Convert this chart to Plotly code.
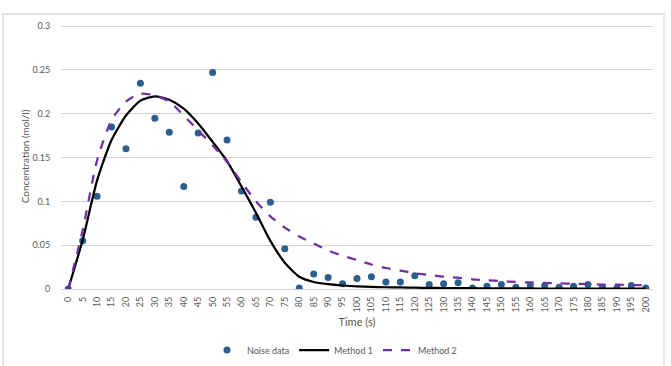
import plotly.graph_objects as go

times = list(range(0, 205, 5))
tick_labels = [str(t) for t in times]

noise_data = [0.0, 0.055, 0.106, 0.185, 0.160, 0.235, 0.195, 0.179, 0.117, 0.178,
              0.247, 0.170, 0.112, 0.082, 0.099, 0.046, 0.001, 0.017, 0.013, 0.006,
              0.012, 0.014, 0.008, 0.008, 0.015, 0.005, 0.006, 0.007, 0.001, 0.003,
              0.005, 0.002, 0.004, 0.004, 0.002, 0.003, 0.005, 0.002, 0.001, 0.004, 0.001]

method1 = [0.0, 0.056, 0.124, 0.170, 0.198, 0.215, 0.220, 0.216, 0.206, 0.189,
           0.168, 0.146, 0.117, 0.087, 0.055, 0.030, 0.014, 0.008, 0.0055, 0.004,
           0.003, 0.0025, 0.002, 0.0018, 0.0015, 0.0013, 0.0011, 0.001, 0.0009, 0.0008,
           0.0007, 0.0006, 0.0006, 0.0005, 0.0005, 0.0004, 0.0004, 0.0004, 0.0003, 0.0003, 0.0003]

method2 = [0.0, 0.067, 0.147, 0.193, 0.214, 0.223, 0.221, 0.214, 0.198, 0.181,
           0.164, 0.145, 0.122, 0.100, 0.083, 0.070, 0.060, 0.052, 0.044, 0.038,
           0.033, 0.028, 0.024, 0.021, 0.018, 0.016, 0.014, 0.013, 0.011, 0.010,
           0.009, 0.008, 0.0075, 0.007, 0.0065, 0.006, 0.0055, 0.005, 0.005, 0.0045, 0.0045]

FONT = "Lato"
GRAY = "#595959"
GRID = "rgb(210,210,210)"

fig = go.Figure()
fig.add_trace(go.Scatter(x=times, y=noise_data, mode="markers", name="Noise data",
                         marker=dict(color="#2a5f8f", size=7)))
fig.add_trace(go.Scatter(x=times, y=method1, mode="lines", name="Method 1",
                         line=dict(color="#000000", width=2.25, shape="spline", smoothing=0.6)))
fig.add_trace(go.Scatter(x=times, y=method2, mode="lines", name="Method 2",
                         line=dict(color="#7030a0", width=2.25, dash="dash", shape="spline", smoothing=0.6)))

fig.update_layout(
    template="none",
    width=671, height=366,
    margin=dict(l=61, r=18, t=24, b=77, autoexpand=False),
    paper_bgcolor="white", plot_bgcolor="white",
    font=dict(family=FONT, size=9, color=GRAY),
    showlegend=True,
    legend=dict(orientation="h", x=0.462, xanchor="center", y=-(350 - 289) / 265, yanchor="middle",
                bgcolor="rgba(0,0,0,0)",
                font=dict(size=9, color=GRAY), itemwidth=30),
    xaxis=dict(range=[-2.5, 202.5], tickmode="array", tickvals=times, ticktext=tick_labels,
               tickangle=-90, showgrid=False, zeroline=False, showline=True, automargin=False,
               linecolor=GRID, linewidth=1.3, ticks="outside", ticklen=3, tickcolor="rgba(0,0,0,0)",
               tickfont=dict(size=9, color=GRAY),
               title=dict(text="Time (s)", font=dict(size=11, color=GRAY), standoff=6)),
    yaxis=dict(range=[0, 0.3025], tickmode="array", tickvals=[0, 0.05, 0.1, 0.15, 0.2, 0.25, 0.3],
               ticktext=["0", "0.05", "0.1", "0.15", "0.2", "0.25", "0.3"],
               showgrid=True, gridcolor=GRID, gridwidth=1.3, zeroline=False, automargin=False,
               showline=False, ticks="outside", ticklen=8, tickcolor="rgba(0,0,0,0)",
               tickfont=dict(size=9, color=GRAY),
               title=dict(text="Concentration (mol/l)", font=dict(size=10, color=GRAY), standoff=0)),
    shapes=[dict(type="rect", xref="paper", yref="paper",
                 x0=(3 - 61) / 592, x1=(664 - 61) / 592,
                 y0=(289 - 372) / 265, y1=(289 - 14) / 265,
                 line=dict(color="#d9d9d9", width=1.3), fillcolor="rgba(0,0,0,0)", layer="above")],
)

fig.write_html("out.html")
